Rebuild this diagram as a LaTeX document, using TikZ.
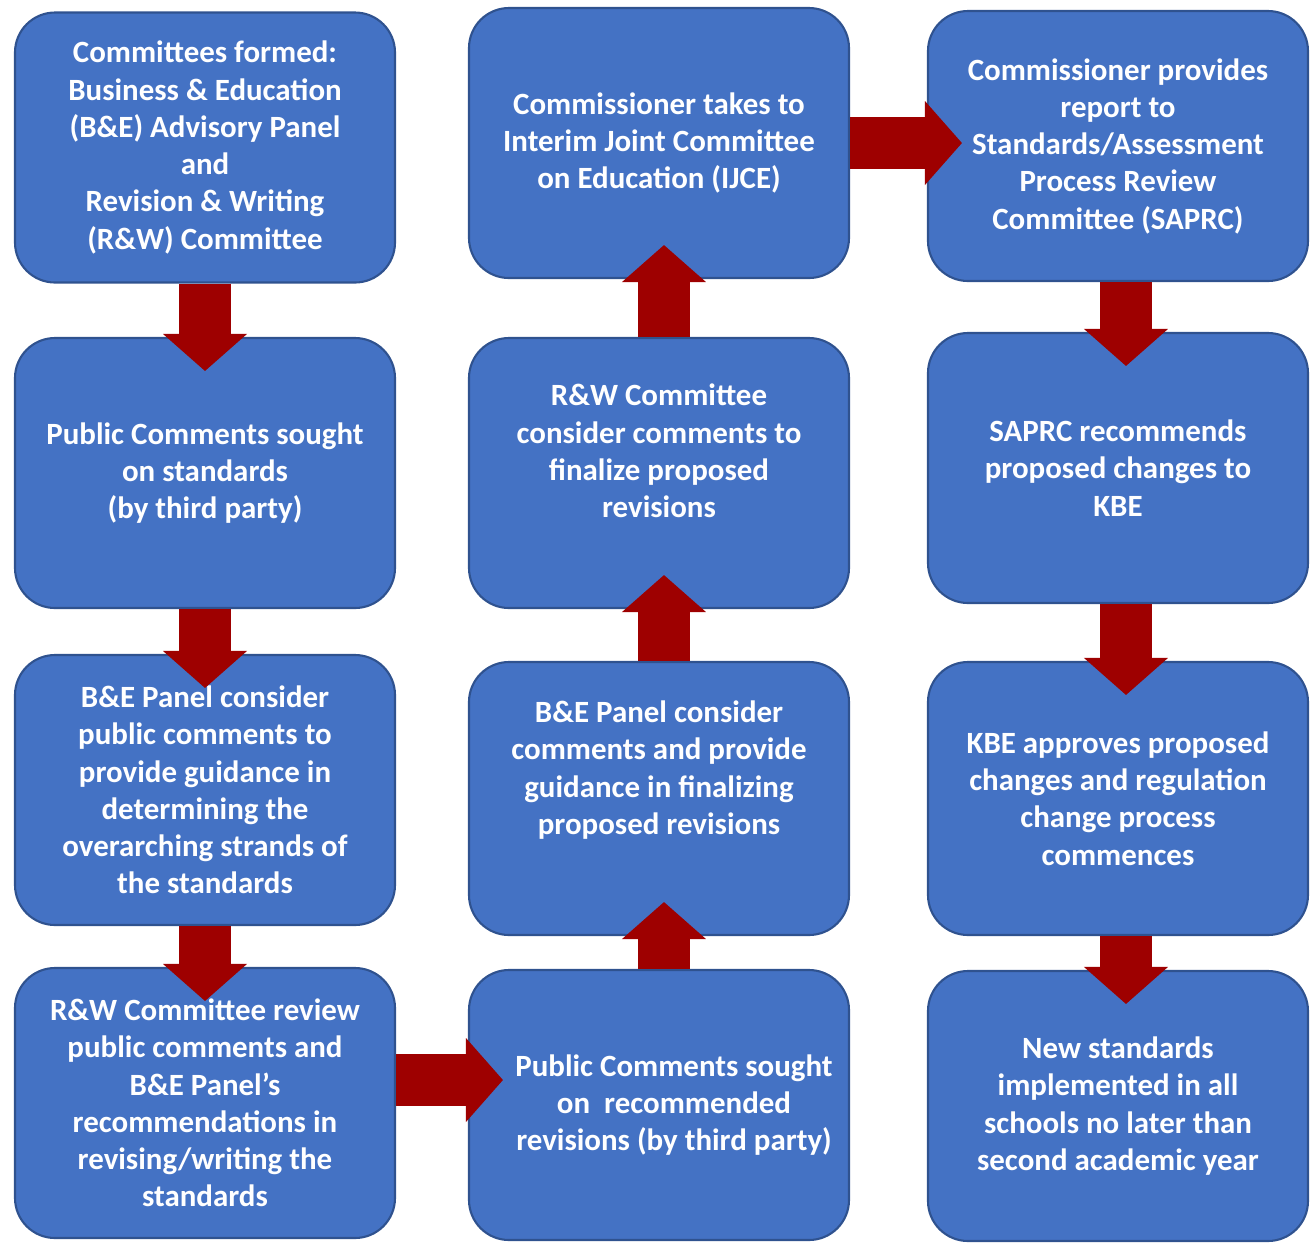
\documentclass[tikz,border=0pt]{standalone}
\usepackage{fontspec}
\setmainfont{Carlito}
\usetikzlibrary{arrows.meta,calc}
\definecolor{boxblue}{RGB}{68,114,196}
\definecolor{boxedge}{RGB}{47,82,143}
\definecolor{arrowred}{RGB}{158,0,0}

\begin{document}
\begin{tikzpicture}[
    stepbox/.style={draw=boxedge, line width=0.6pt, fill=boxblue, rounded corners=4mm,
        minimum width=3.8cm, minimum height=2.7cm, inner sep=0pt, align=center,
        text=white, font=\bfseries\fontsize{8.8}{10.6}\selectfont},
    bigarrow/.style={draw=arrowred, line width=5.2mm,
        -{Triangle[length=3.7mm, width=8.4mm, line width=0pt, color=arrowred]}}]
    \useasboundingbox (0,0) rectangle (13.12,-12.43);

    % 方框
    \node[stepbox] (formed) at (2.05,-1.475) {Committees formed:\\Business \& Education\\(B\&E) Advisory Panel\\and\\Revision \& Writing\\(R\&W) Committee};
    \node[stepbox] (sought) at (2.05,-4.73) {Public Comments sought\\on standards\\(by third party)};
    \node[stepbox] (guide) at (2.05,-7.9) {B\&E Panel consider\\public comments to\\provide guidance in\\determining the\\overarching strands of\\the standards};
    \node[stepbox] (review) at (2.05,-11.03) {R\&W Committee review\\public comments and\\B\&E Panel’s\\recommendations in\\revising/writing the\\standards};

    \node[stepbox] (ijce) at (6.59,-1.43) {Commissioner takes to\\Interim Joint Committee\\on Education (IJCE)};
    \node[stepbox] (finalize) at (6.59,-4.73) {R\&W Committee\\consider comments to\\finalize proposed\\revisions\\[2pt]~};
    \node[stepbox, minimum height=2.73cm] (panel) at (6.59,-7.985) {B\&E Panel consider\\comments and provide\\guidance in finalizing\\proposed revisions\\[7pt]~};
    \node[stepbox] (recsought) at (6.59,-11.05) {\hspace*{3mm}Public Comments sought\\\hspace*{3mm}on~~recommended\\\hspace*{3mm}revisions (by third party)};

    \node[stepbox] (report) at (11.18,-1.46) {Commissioner provides\\report to\\Standards/Assessment\\Process Review\\Committee (SAPRC)};
    \node[stepbox] (recommends) at (11.18,-4.68) {SAPRC recommends\\proposed changes to\\KBE};
    \node[stepbox, minimum height=2.73cm] (kbe) at (11.18,-7.985) {KBE approves proposed\\changes and regulation\\change process\\commences};
    \node[stepbox] (implement) at (11.18,-11.06) {New standards\\implemented in all\\schools no later than\\second academic year};

    % 箭头
    \draw[bigarrow] (formed.south) -- ([yshift=-3.4mm]sought.north);
    \draw[bigarrow] (sought.south) -- ([yshift=-3.4mm]guide.north);
    \draw[bigarrow] (guide.south) -- ([yshift=-3.4mm]review.north);
    \draw[bigarrow] ([yshift=2.3mm]review.east) -- ($(review.east -| recsought.west)+(3.5mm,2.3mm)$);
    \draw[bigarrow] ([xshift=0.5mm]recsought.north) -- ([xshift=0.5mm,yshift=3.4mm]panel.south);
    \draw[bigarrow] ([xshift=0.5mm]panel.north) -- ([xshift=0.5mm,yshift=3.4mm]finalize.south);
    \draw[bigarrow] ([xshift=0.5mm]finalize.north) -- ([xshift=0.5mm,yshift=3.4mm]ijce.south);
    \draw[bigarrow] (ijce.east) -- ($(ijce.east -| report.west)+(3.5mm,0)$);
    \draw[bigarrow] ([xshift=0.8mm]report.south) -- ([xshift=0.8mm,yshift=-3.4mm]recommends.north);
    \draw[bigarrow] ([xshift=0.8mm]recommends.south) -- ([xshift=0.8mm,yshift=-3.4mm]kbe.north);
    \draw[bigarrow] ([xshift=0.8mm]kbe.south) -- ([xshift=0.8mm,yshift=-3.4mm]implement.north);
\end{tikzpicture}
\end{document}
